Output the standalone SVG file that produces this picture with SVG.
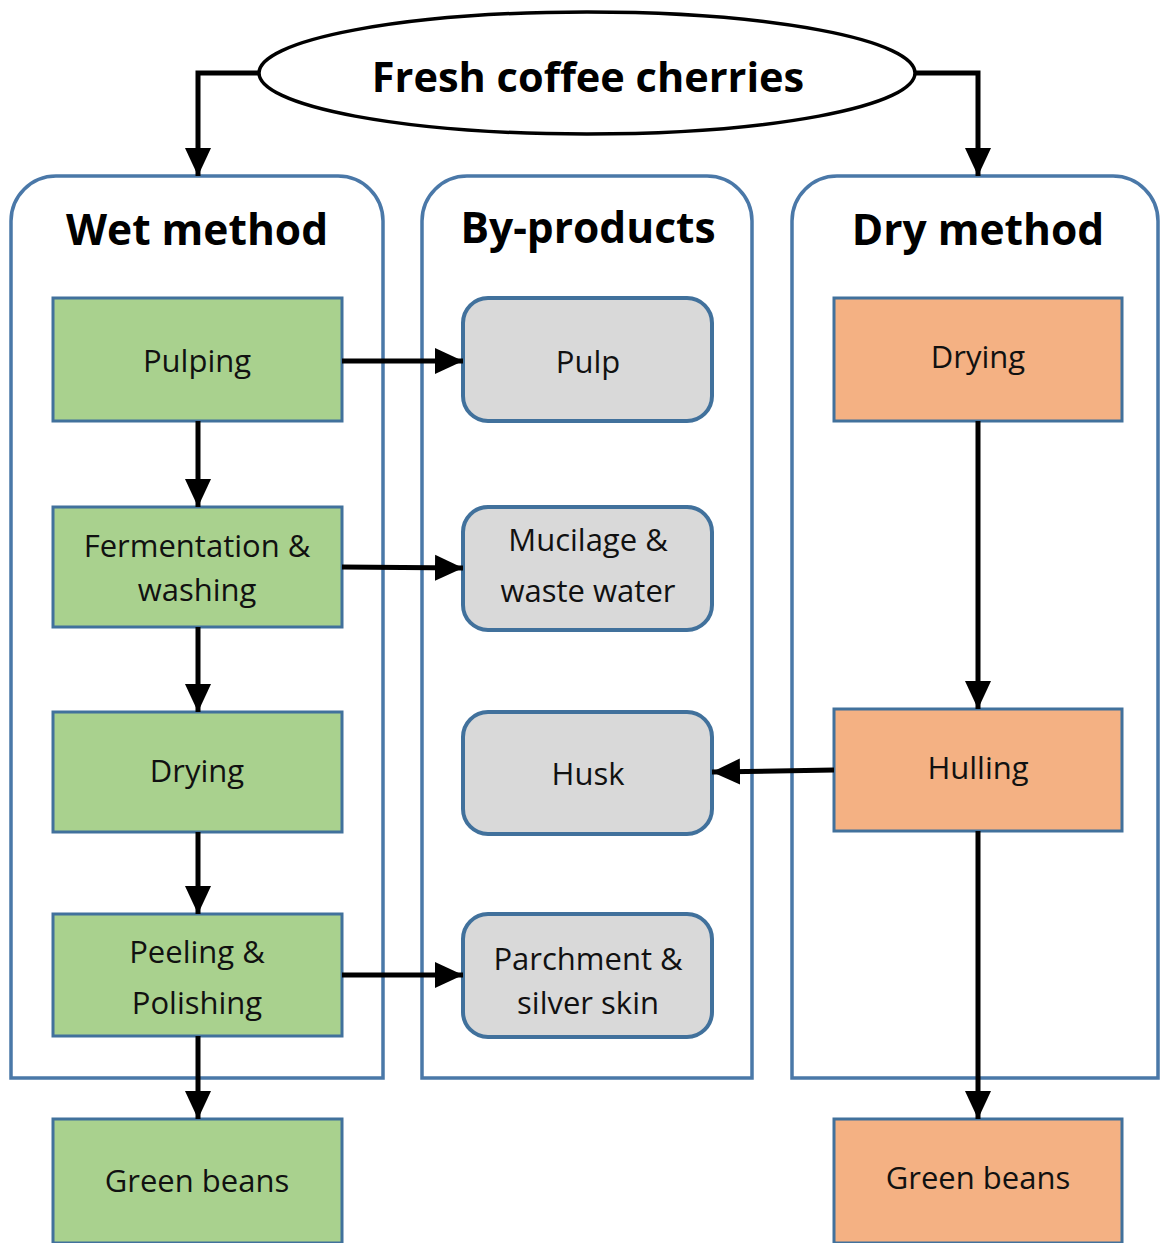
<svg xmlns="http://www.w3.org/2000/svg" width="1161" height="1243" viewBox="0 0 1161 1243">
<defs>
<marker id="ah" markerUnits="userSpaceOnUse" markerWidth="28" markerHeight="28" viewBox="0 0 28 28" refX="28" refY="14" orient="auto">
<path d="M0,1 L28,14 L0,27 Z" fill="#000"/>
</marker>
<style>
.cont{fill:#fff;stroke:#4a78a8;stroke-width:3.5}
.wet{fill:#a9d18e;stroke:#41719c;stroke-width:3}
.dry{fill:#f4b183;stroke:#41719c;stroke-width:3}
.bp{fill:#d9d9d9;stroke:#41719c;stroke-width:4}
.lbl{font-family:"Open Sans","Noto Sans","Liberation Sans",sans-serif;font-size:31px;fill:#111;text-anchor:middle}
.ttl{font-family:"Open Sans","Noto Sans","Liberation Sans",sans-serif;font-size:42.5px;font-weight:bold;fill:#000;text-anchor:middle}
.con{fill:none;stroke:#000;stroke-width:5}
</style>
</defs>
<rect width="1161" height="1243" fill="#fff"/>
<g id="containers">
<g id="wet-method">
<path class="cont" d="M11,1078 L11,221 A45,45 0 0 1 56,176 L338,176 A45,45 0 0 1 383,221 L383,1078 Z"/>
<text class="ttl" x="197" y="245">Wet method</text>
</g>
<g id="by-products">
<path class="cont" d="M422,1078 L422,221 A45,45 0 0 1 467,176 L707,176 A45,45 0 0 1 752,221 L752,1078 Z"/>
<text class="ttl" x="588" y="243">By-products</text>
</g>
<g id="dry-method">
<path class="cont" d="M792,1078 L792,221 A45,45 0 0 1 837,176 L1113,176 A45,45 0 0 1 1158,221 L1158,1078 Z"/>
<text class="ttl" x="978" y="245">Dry method</text>
</g>
</g>
<g id="cherries">
<ellipse cx="587" cy="73" rx="328" ry="61" fill="#fff" stroke="#000" stroke-width="3.5"/>
<text class="ttl" x="588" y="92" style="font-size:41.5px">Fresh coffee cherries</text>
</g>
<g id="wet-nodes">
<g id="pulping"><rect class="wet" x="53" y="298" width="289" height="123"/><text class="lbl" x="197" y="372">Pulping</text></g>
<g id="fermentation"><rect class="wet" x="53" y="507" width="289" height="120"/><text class="lbl" x="197" y="557">Fermentation &amp;</text><text class="lbl" x="197" y="601">washing</text></g>
<g id="wet-drying"><rect class="wet" x="53" y="712" width="289" height="120"/><text class="lbl" x="197" y="782">Drying</text></g>
<g id="peeling"><rect class="wet" x="53" y="914" width="289" height="122"/><text class="lbl" x="197" y="963">Peeling &amp;</text><text class="lbl" x="197" y="1014">Polishing</text></g>
<g id="wet-green"><rect class="wet" x="53" y="1119" width="289" height="124"/><text class="lbl" x="197" y="1192">Green beans</text></g>
</g>
<g id="byproduct-nodes">
<g id="pulp"><rect class="bp" x="463" y="298" width="249" height="123" rx="25"/><text class="lbl" x="588" y="373">Pulp</text></g>
<g id="mucilage"><rect class="bp" x="463" y="507" width="249" height="123" rx="25"/><text class="lbl" x="588" y="551">Mucilage &amp;</text><text class="lbl" x="588" y="602">waste water</text></g>
<g id="husk"><rect class="bp" x="463" y="712" width="249" height="122" rx="25"/><text class="lbl" x="588" y="785">Husk</text></g>
<g id="parchment"><rect class="bp" x="463" y="914" width="249" height="123" rx="25"/><text class="lbl" x="588" y="970">Parchment &amp;</text><text class="lbl" x="588" y="1014">silver skin</text></g>
</g>
<g id="dry-nodes">
<g id="dry-drying"><rect class="dry" x="834" y="298" width="288" height="123"/><text class="lbl" x="978" y="368">Drying</text></g>
<g id="hulling"><rect class="dry" x="834" y="709" width="288" height="122"/><text class="lbl" x="978" y="779">Hulling</text></g>
<g id="dry-green"><rect class="dry" x="834" y="1119" width="288" height="124"/><text class="lbl" x="978" y="1189">Green beans</text></g>
</g>
<g id="connectors">
<path class="con" d="M259,73 L198,73 L198,176" marker-end="url(#ah)"/>
<path class="con" d="M916,73 L978,73 L978,176" marker-end="url(#ah)"/>
<path class="con" d="M342,361 L463,361" marker-end="url(#ah)"/>
<path class="con" d="M342,567 L463,568" marker-end="url(#ah)"/>
<path class="con" d="M342,975 L463,975" marker-end="url(#ah)"/>
<path class="con" d="M834,770 L712,772" marker-end="url(#ah)"/>
<path class="con" d="M198,421 L198,507" marker-end="url(#ah)"/>
<path class="con" d="M198,627 L198,712" marker-end="url(#ah)"/>
<path class="con" d="M198,832 L198,914" marker-end="url(#ah)"/>
<path class="con" d="M198,1036 L198,1119" marker-end="url(#ah)"/>
<path class="con" d="M978,421 L978,709" marker-end="url(#ah)"/>
<path class="con" d="M978,831 L978,1119" marker-end="url(#ah)"/>
</g>
</svg>
